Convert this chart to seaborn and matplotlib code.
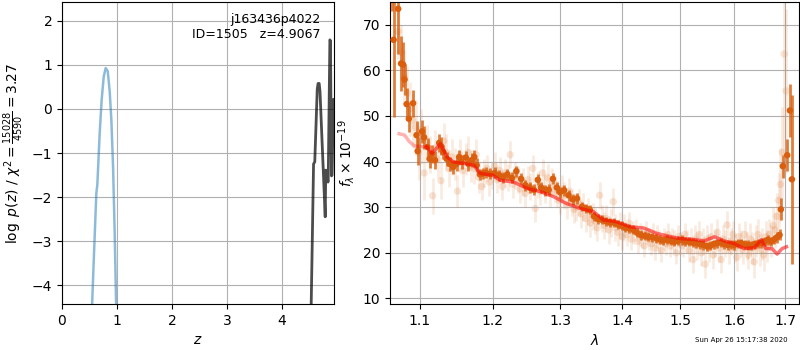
import numpy as np
import pandas as pd
import seaborn as sns
import matplotlib.pyplot as plt
from matplotlib.ticker import FixedLocator, FormatStrFormatter, NullLocator

# ---- p(z) panel ----
pz_blue_z = [0.54, 0.583, 0.625, 0.643, 0.686, 0.722, 0.759, 0.795, 0.832, 0.868,
             0.898, 0.929, 0.959, 0.983, 0.99]
pz_blue_y = [-4.7, -3.27, -1.91, -1.72, -0.55, 0.21, 0.73, 0.93, 0.86, 0.40,
             -0.24, -1.30, -2.82, -4.33, -4.6]
pz_dark_z = [4.53, 4.548, 4.578, 4.60, 4.645, 4.66, 4.68, 4.695, 4.79, 4.80, 4.815,
             4.83, 4.84, 4.845, 4.875, 4.885, 4.905, 4.915, 4.94, 4.96]
pz_dark_y = [-4.8, -3.5, -1.25, -1.2, 0.45, 0.58, 0.58, 0.40, -2.45, -1.39, -1.40,
             -1.55, -1.66, -1.60, 1.57, 1.55, -1.52, -1.50, 0.22, 0.20]

# ---- spectrum panel ----
faint_flux = [
    68.5, 64.0, 58.5, 55.0, 51.5, 49.0, 47.5, 42.0, 45.5, 37.5,
    44.0, 41.5, 32.5, 43.0, 40.5, 35.8, 44.5, 42.0, 38.5, 41.0,
    39.5, 33.5, 41.5, 38.0, 40.5, 42.0, 39.0, 38.5, 41.5, 36.5,
    34.5, 37.5, 38.5, 35.5, 37.0, 39.0, 36.0, 38.0, 34.5, 37.5,
    36.5, 41.5, 35.0, 37.0, 36.0, 34.0, 35.5, 33.0, 36.0, 34.5,
    38.5, 29.7, 35.0, 33.5, 37.5, 34.0, 36.5, 33.0, 35.5, 34.0,
    33.0, 31.5, 34.0, 32.5, 30.5, 33.5, 31.0, 29.5, 30.0, 31.0,
    28.5, 30.0, 27.5, 29.0, 26.5, 28.0, 27.0, 25.5, 32.6, 27.5,
    26.0, 27.5, 25.0, 26.5, 31.2, 25.5, 24.5, 26.0, 23.5, 25.5,
    24.0, 26.5, 23.0, 24.5, 25.0, 22.5, 24.0, 23.5, 21.5, 24.5,
    23.0, 22.0, 24.0, 21.0, 23.5, 22.5, 20.5, 23.0, 22.0, 24.0,
    21.5, 23.0, 22.5, 20.0, 23.5, 22.0, 21.5, 24.0, 22.5, 20.5,
    22.5, 18.5, 23.0, 21.5, 24.0, 20.0, 22.5, 17.5, 23.0, 21.0,
    23.5, 19.5, 22.0, 24.5, 21.0, 18.5, 23.0, 22.0, 26.1, 20.5,
    22.5, 24.0, 21.0, 19.0, 23.5, 22.0, 20.5, 24.0, 21.5, 19.5,
    23.0, 21.0, 18.0, 22.5, 24.0, 20.5, 22.0, 19.5, 23.5, 21.5,
    24.0, 22.5, 26.0, 25.0, 28.0, 31.5, 35.0, 42.0, 63.6, 55.5,
]
faint_err_blocks = [6, 4, 3.5, 3, 3, 3, 3, 3, 3, 2.5, 2.5, 2.5, 3, 3, 3, 3.5]
faint_err_last = [3.5, 3.5, 4, 4, 5, 6, 8, 10, 27, 18]
faint_wave_range = (1.072, 1.702)

bin_wave = [1.064, 1.066, 1.0718, 1.0755, 1.078, 1.080, 1.0827, 1.0855, 1.091, 1.0955,
            1.097, 1.1027, 1.1055, 1.110, 1.1127, 1.1155, 1.120, 1.1255, 1.128, 1.131,
            1.1355, 1.140, 1.1445, 1.149, 1.1527, 1.156, 1.1618, 1.1655, 1.170, 1.1736,
            1.177, 1.1814, 1.186, 1.1905, 1.1955, 1.2025, 1.209, 1.215, 1.221, 1.2275,
            1.234, 1.241, 1.2475, 1.254, 1.260, 1.266, 1.271, 1.2775, 1.2825, 1.289,
            1.295, 1.300, 1.3064, 1.3133, 1.320, 1.3266, 1.3346, 1.3415, 1.347, 1.3535,
            1.360, 1.3665, 1.373, 1.3795, 1.386, 1.3925, 1.399, 1.4055, 1.412, 1.4185,
            1.425, 1.4315, 1.438, 1.4445, 1.451, 1.4575, 1.464, 1.4705, 1.477, 1.4835,
            1.490, 1.4965, 1.503, 1.5095, 1.516, 1.5225, 1.529, 1.5355, 1.542, 1.5485,
            1.555, 1.5615, 1.568, 1.5745, 1.581, 1.5875, 1.594, 1.6005, 1.607, 1.6135,
            1.620, 1.6265, 1.633, 1.6395, 1.646, 1.6525, 1.659, 1.6655, 1.672, 1.678,
            1.684, 1.689, 1.6916, 1.6955, 1.7045, 1.710, 1.714]
bin_flux = [77.0, 66.7, 73.5, 61.5, 61.3, 58.0, 52.6, 49.4, 52.8, 45.8,
            42.3, 46.6, 45.3, 43.2, 40.6, 41.6, 40.3, 44.1, 43.4, 42.1,
            40.6, 39.5, 38.8, 39.5, 41.0, 39.9, 40.9, 39.5, 40.3, 41.0,
            39.2, 37.2, 37.4, 37.5, 37.3, 37.5, 37.0, 36.6, 37.2, 36.4,
            37.9, 36.2, 34.8, 34.3, 33.8, 36.0, 34.3, 33.7, 33.8, 36.2,
            34.3, 33.3, 33.7, 32.6, 31.7, 31.9, 30.1, 29.7, 29.4, 28.0,
            27.4, 27.2, 26.9, 26.6, 26.6, 26.2, 25.9, 25.5, 25.3, 25.0,
            24.4, 23.9, 23.7, 23.5, 23.4, 23.2, 22.9, 22.7, 22.9, 22.6,
            22.4, 22.6, 22.8, 22.5, 22.4, 22.2, 22.1, 21.9, 21.7, 21.4,
            21.5, 21.9, 22.1, 22.2, 21.9, 21.7, 21.8, 21.7, 22.0, 22.1,
            21.8, 21.7, 21.6, 21.9, 22.0, 22.1, 22.5, 22.8, 22.5, 22.9,
            23.4, 23.9, 29.5, 39.0, 41.4, 51.2, 36.1]
bin_err = [4, 17, 10, 6, 5, 3.5, 3.5, 3, 3, 3,
           3, 2.5, 2.5, 2, 2, 2, 2, 2, 2, 1.5,
           1.5, 1.5, 1.5, 1.5, 1.5, 1.5, 1.5, 1.5, 1.5, 1.5,
           1.5, 1.2, 1.2, 1.2, 1.2, 1.2, 1.2, 1.2, 1.2, 1.2,
           1.2, 1.2, 1.2, 1.2, 1.2, 1.2, 1.2, 1.2, 1.2, 1.2,
           1.2, 1.2, 1.2, 1.2, 1.2, 1.2, 1.0, 1.0, 1.0, 1.0,
           1.0, 1.0, 1.0, 1.0, 1.0, 1.0, 1.0, 1.0, 1.0, 1.0,
           1.0, 1.0, 1.0, 1.0, 1.0, 1.0, 1.0, 1.0, 1.0, 1.0,
           1.0, 1.0, 1.0, 1.0, 1.0, 1.0, 1.0, 1.0, 1.0, 1.0,
           1.0, 1.0, 1.0, 1.0, 1.0, 1.0, 1.0, 1.0, 1.0, 1.0,
           1.0, 1.0, 1.0, 1.0, 1.0, 1.0, 1.0, 1.0, 1.0, 1.0,
           1.2, 1.2, 2.4, 2.5, 3.5, 5.8, 18.6]

model_wave = [1.073, 1.080, 1.086, 1.093, 1.109, 1.116, 1.127, 1.136, 1.145, 1.159,
              1.173, 1.182, 1.200, 1.210, 1.230, 1.250, 1.270, 1.290, 1.310, 1.332,
              1.353, 1.369, 1.390, 1.413, 1.437, 1.460, 1.484, 1.501, 1.526, 1.544,
              1.563, 1.581, 1.600, 1.619, 1.639, 1.653, 1.661, 1.674, 1.684, 1.694,
              1.703]
model_flux = [46.1, 45.8, 44.4, 43.4, 43.2, 41.8, 43.9, 41.0, 39.9, 39.6,
              39.2, 37.4, 37.0, 35.9, 35.5, 34.1, 33.4, 32.3, 30.8, 29.7,
              29.0, 27.2, 26.8, 25.7, 25.4, 24.2, 23.5, 23.1, 22.9, 22.6,
              23.5, 22.6, 22.0, 20.9, 21.1, 22.9, 20.9, 20.9, 19.7, 20.9,
              21.3]

orange = '#d95f0e'

fig = plt.figure(figsize=(8, 3.5), dpi=100)
ax1 = fig.add_axes([0.0775, 0.1314, 0.34, 0.8629])
ax2 = fig.add_axes([0.4875, 0.1314, 0.51125, 0.8629])

sns.lineplot(x=pz_blue_z, y=pz_blue_y, ax=ax1, sort=False, color='tab:blue', alpha=0.5, lw=1.8)
sns.lineplot(x=pz_dark_z, y=pz_dark_y, ax=ax1, sort=False, color='k', alpha=0.7, lw=2)
ax1.set_xlim(0, 4.95)
ax1.set_ylim(-4.43, 2.43)
ax1.grid(True)
ax1.set_xlabel('$z$')
ax1.set_ylabel(r'$\log\ p(z)$ / $\chi^2=\frac{15028}{4590}=3.27$')
ax1.text(0.95, 0.965, 'j163436p4022\nID=1505   z=4.9067', transform=ax1.transAxes,
         ha='right', va='top', fontsize=9)

# faint individual points
faint = pd.DataFrame({'wave': np.linspace(*faint_wave_range, len(faint_flux)),
                      'flux': faint_flux,
                      'err': np.concatenate([np.repeat(faint_err_blocks, 10), faint_err_last])})
ax2.vlines(faint['wave'], faint['flux'] - faint['err'], faint['flux'] + faint['err'],
           color=orange, alpha=0.12, lw=2)
sns.scatterplot(data=faint, x='wave', y='flux', ax=ax2, color=orange, alpha=0.17,
                s=28, edgecolor='none')

# binned spectrum
binned = pd.DataFrame({'wave': bin_wave, 'flux': bin_flux, 'err': bin_err})
ax2.vlines(binned['wave'], binned['flux'] - binned['err'], binned['flux'] + binned['err'],
           color=orange, alpha=0.8, lw=2)
sns.scatterplot(data=binned, x='wave', y='flux', ax=ax2, color=orange, s=22,
                edgecolor='none', zorder=3)

# model
sns.lineplot(x=model_wave[:5], y=model_flux[:5], ax=ax2, color='red', alpha=0.3, lw=2.5, zorder=4)
sns.lineplot(x=model_wave[4:], y=model_flux[4:], ax=ax2, color='red', alpha=0.55, lw=2.5, zorder=4)

ax2.set_xscale('log')
ax2.xaxis.set_major_locator(FixedLocator([1.1, 1.2, 1.3, 1.4, 1.5, 1.6, 1.7]))
ax2.xaxis.set_major_formatter(FormatStrFormatter('%.1f'))
ax2.xaxis.set_minor_locator(NullLocator())
ax2.set_xlim(1.0614, 1.7286)
ax2.set_ylim(8.75, 75)
ax2.grid(True)
ax2.set_xlabel(r'$\lambda$')
ax2.set_ylabel(r'$f_\lambda\times10^{-19}$')

fig.text(0.985, 0.02, 'Sun Apr 26 15:17:38 2020', ha='right', va='bottom', fontsize=5)

fig.savefig('out.png', dpi=100)
